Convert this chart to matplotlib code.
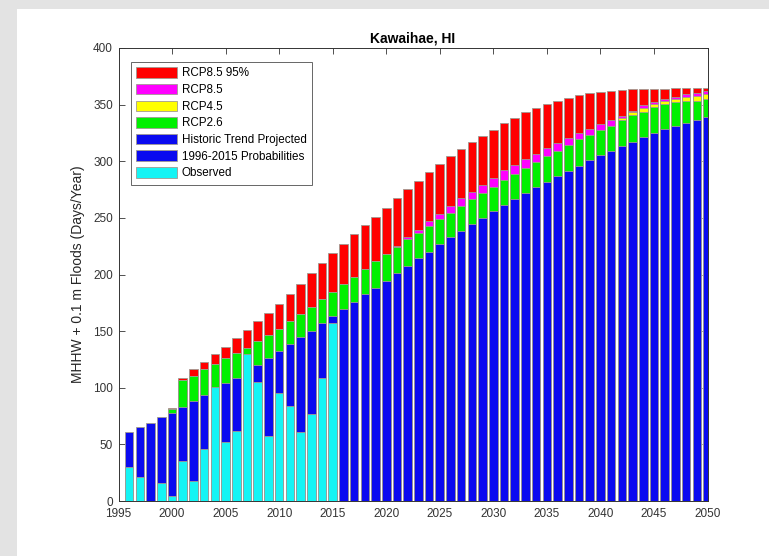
import numpy as np
import matplotlib
matplotlib.use("Agg")
import matplotlib.pyplot as plt
from matplotlib.patches import Rectangle, Patch

plt.rcParams['font.family'] = ['Liberation Sans', 'DejaVu Sans']

years = list(range(1996, 2051))

# Observed (1996-2015)
observed = [30, 21, 0, 16, 4, 35, 18, 46, 101, 52, 62, 129.5, 105, 57, 95, 84, 61, 77, 109, 157]
# 1996-2015 probabilities
prob_1996_2015 = [61, 65, 69, 74, 78, 83, 88.5, 93.5, 100, 104, 109, 129, 120.5, 126.7, 132.6, 138.5, 144.5, 150.4, 157, 163]
# Historic trend projected (2016-2050)
trend_proj = [169.8, 176, 182.5, 188.4, 194.6, 201.3, 207.8, 214.9, 220.2, 226.6, 233.4, 238.7, 244.6,
              250.2, 256.1, 261.4, 266.7, 271.7, 277, 282, 287, 291.7, 296.1, 301.1, 305.5, 309.3,
              313.5, 317.3, 321.1, 324.7, 328.2, 331.1, 334.1, 336.4, 338.8]

# Scenario totals, 2000-2050
rcp_years = list(range(2000, 2051))
rcp26 = [81.5, 106.5, 110.7, 116.3, 120.7, 126.3, 131, 135.5, 141.2, 147, 152, 158.5, 165, 171.7, 178.2,
         184.8, 191.5, 198.1, 205.2, 211.5, 218.5, 224.6, 231, 237, 243.1, 249, 254.6, 260.5, 266.4,
         271.7, 277, 283.4, 288.4, 294.3, 299.6, 304.6, 309.1, 314.3, 319.3, 323.2, 327.6, 331.1,
         336.4, 340.8, 343.8, 348.2, 350.3, 352, 353.2, 353.5, 354.7]
rcp45 = [81.5, 106.5, 110.7, 116.3, 120.7, 126.3, 131, 135.5, 141.2, 147, 152, 158.5, 165, 171.7, 178.2,
         184.8, 191.5, 198.1, 205.2, 211.5, 218.5, 224.6, 231, 237, 243.1, 249, 254.6, 260.5, 266.4,
         271.7, 277, 283.4, 288.4, 294.3, 299.6, 304.6, 309.1, 314.3, 319.3, 323.2, 327.6, 331.1,
         338, 343.8, 347.3, 350.3, 353.2, 355, 356.4, 357.9, 359.4]
rcp85 = [81.5, 106.5, 110.7, 116.3, 120.7, 126.3, 131, 135.5, 141.2, 147, 152, 158.5, 165, 171.7, 178.2,
         184.8, 191.5, 198.1, 205.2, 211.5, 218.5, 225.5, 233, 239.3, 247.5, 253.4, 260.5, 267.2, 273.1,
         278.7, 284.9, 292.3, 296.7, 302, 306.7, 311.4, 316.4, 320.8, 324.7, 328.5, 332.6, 336.4,
         340.2, 344.7, 349.4, 352, 354.7, 357, 359.1, 360.6, 362]
rcp85_95 = [82.5, 108.5, 116.3, 122.4, 129.5, 136.3, 143.6, 151.3, 158.8, 166.2, 174.3, 183, 191.5, 201,
            209.9, 218.7, 226.7, 235.4, 243.7, 251.1, 258.7, 267.2, 275.5, 282.9, 290.8, 297.6, 304.6,
            310.5, 316.7, 322.3, 327.6, 333.5, 338.5, 343.2, 347, 350.6, 353.5, 355.8, 358.2, 360,
            361.1, 362.3, 362.9, 363.5, 363.8, 364.1, 364.2, 364.3, 364.4, 364.5, 364.5]

labels = ['RCP8.5 95%', 'RCP8.5', 'RCP4.5', 'RCP2.6', 'Historic Trend Projected',
          '1996-2015 Probabilities', 'Observed']
c_red, c_mag, c_yel, c_grn, c_blu, c_cyn = '#ff0000', '#ff00ff', '#ffff00', '#00f000', '#0a0af0', '#14f4f4'

fig = plt.figure(figsize=(7.69, 5.56), dpi=100, facecolor='#e3e3e3')
bg = fig.add_axes([17 / 769, 0, 1 - 17 / 769, (556 - 9) / 556], zorder=-10)
bg.set_facecolor('white')
bg.set_axis_off()
bg.add_patch(Rectangle((0, 0), 1, 1, transform=bg.transAxes, facecolor='white', edgecolor='none'))

ax = fig.add_axes([118.5 / 769, (556 - 501) / 556, 589 / 769, 453 / 556], zorder=1)
ax.set_facecolor('white')

w = 0.8
ec = '#a09a92'
lw = 0.6
kw = dict(width=w, edgecolor=ec, linewidth=lw)
ax.bar(rcp_years, rcp85_95, color=c_red, zorder=2, **kw)
ax.bar(rcp_years, rcp85, color=c_mag, zorder=3, **kw)
ax.bar(rcp_years, rcp45, color=c_yel, zorder=4, **kw)
ax.bar(rcp_years, rcp26, color=c_grn, zorder=5, **kw)
ax.bar(years[20:], trend_proj, color=c_blu, zorder=6, **kw)
ax.bar(years[:20], prob_1996_2015, color=c_blu, zorder=6, **kw)
ax.bar(years[:20], observed, color=c_cyn, zorder=7, **kw)

ax.set_xlim(1995, 2050)
ax.set_ylim(0, 400)
ax.set_xticks(range(1995, 2051, 5))
ax.set_yticks(range(0, 401, 50))
ax.tick_params(direction='in', top=True, right=True, length=4, width=0.6,
               labelsize=8.5, colors='#333333')
ax.tick_params(axis='x', pad=5)
ax.tick_params(axis='y', pad=4)
for s in ax.spines.values():
    s.set_color('#333333')
    s.set_linewidth(0.7)
    s.set_zorder(10)

ax.set_title('Kawaihae, HI', fontsize=10, fontweight='bold', pad=4)
ax.set_ylabel('MHHW + 0.1 m Floods (Days/Year)', fontsize=10, color='#262626', labelpad=6)

colors = [c_red, c_mag, c_yel, c_grn, c_blu, c_blu, c_cyn]
handles = [Patch(facecolor=c, edgecolor=ec, linewidth=0.6) for c in colors]
leg = ax.legend(handles, labels, loc='upper left',
                bbox_to_anchor=((131 - 118.5) / 589, 1 - (62 - 48) / 453),
                borderaxespad=0, fontsize=8.4, frameon=True, fancybox=False,
                edgecolor='#666666', framealpha=1, handlelength=3.5, handleheight=1.0,
                labelspacing=0.38, handletextpad=0.4, borderpad=0.45)
leg.get_frame().set_linewidth(0.7)
leg.set_zorder(20)

fig.savefig('out.png', dpi=100, facecolor=fig.get_facecolor())
